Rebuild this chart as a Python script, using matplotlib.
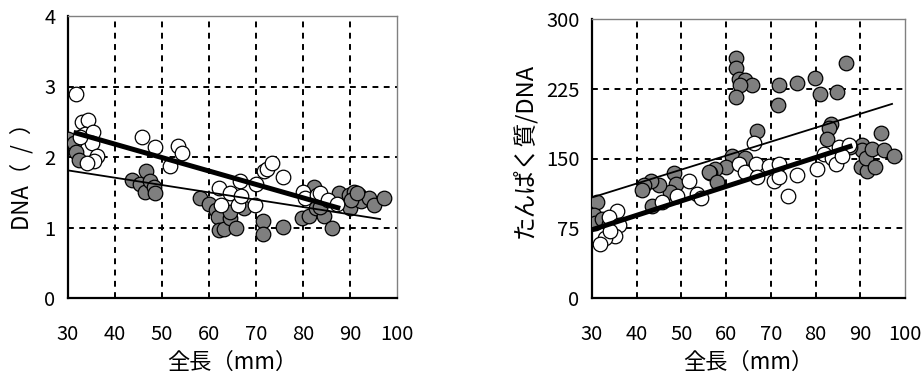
import matplotlib.pyplot as plt

plt.rcParams['font.family'] = ['Noto Sans CJK JP', 'DejaVu Sans']

# left panel: DNA vs total length
dna_open_x = [31.8, 32.9, 34.2, 33.6, 35.4, 35.0, 36.1, 35.5, 34.1, 32.6,
              45.8, 48.5, 51.7, 53.5, 54.2, 62.2, 62.5, 64.5, 66.1, 66.6,
              66.9, 69.8, 70.1, 71.6, 72.3, 73.3, 75.7, 80.1, 80.5, 83.0,
              83.7, 85.4, 87.2]
dna_open_y = [2.89, 2.50, 2.53, 2.33, 2.35, 2.20, 2.02, 1.95, 1.92, 2.28,
              2.29, 2.14, 1.87, 2.16, 2.05, 1.56, 1.32, 1.49, 1.32, 1.66,
              1.44, 1.32, 1.61, 1.80, 1.83, 1.92, 1.71, 1.51, 1.42, 1.46,
              1.49, 1.39, 1.34]
dna_fill_x = [30.1, 31.3, 31.6, 32.3, 43.6, 45.4, 46.7, 46.4, 47.5, 48.4,
              48.6, 58.0, 59.9, 61.5, 62.0, 62.2, 63.2, 64.4, 64.5, 65.8,
              67.4, 71.5, 71.5, 75.8, 79.7, 81.3, 82.3, 82.8, 84.4, 86.2,
              87.6, 89.8, 90.0, 90.8, 92.0, 92.3, 94.1, 95.2, 97.3, 90.2,
              83.7, 91.4]
dna_fill_y = [2.26, 2.20, 2.07, 1.96, 1.67, 1.61, 1.80, 1.51, 1.66, 1.58,
              1.49, 1.42, 1.33, 1.25, 1.15, 0.96, 0.98, 1.13, 1.22, 0.99,
              1.27, 1.09, 0.91, 1.01, 1.13, 1.17, 1.58, 1.27, 1.17, 1.00,
              1.49, 1.46, 1.27, 1.51, 1.46, 1.37, 1.42, 1.32, 1.42, 1.39,
              1.29, 1.49]
dna_fit_open_x = [31.7, 87.4]
dna_fit_open_y = [2.34, 1.28]
dna_fit_fill_x = [30.0, 96.4]
dna_fit_fill_y = [1.81, 1.12]

# right panel: protein/DNA vs total length
pd_fill_x = [62.2, 62.1, 62.8, 64.3, 65.8, 63.1, 62.2, 71.8, 71.6, 75.9,
             79.9, 80.9, 84.9, 86.7, 66.9, 83.4, 83.0, 82.6, 61.3, 59.9,
             57.6, 56.5, 56.2, 58.0, 64.3, 48.3, 48.7, 47.5, 44.9, 43.1,
             41.6, 41.2, 43.4, 31.1, 30.4, 30.7, 32.2, 33.7, 90.4, 90.4,
             90.1, 91.6, 91.2, 93.4, 92.7, 94.6, 95.3, 97.5, 87.8]
pd_fill_y = [258, 247, 236, 234, 229, 229, 216, 229, 208, 231,
             237, 219, 222, 253, 180, 187, 183, 171, 153, 141,
             139, 134, 135, 125, 151, 134, 123, 114, 121, 126,
             121, 116, 99, 103, 89, 81, 85, 80, 164, 159,
             141, 137, 151, 141, 160, 177, 159, 153, 162]
pd_open_x = [66.2, 62.8, 64.2, 66.6, 66.9, 69.6, 70.7, 71.8, 71.8, 73.9,
             75.9, 80.4, 81.9, 83.7, 84.5, 85.2, 87.5, 86.0, 51.6, 53.5,
             54.3, 49.0, 45.7, 35.6, 33.7, 36.0, 35.2, 33.0, 31.9, 34.1]
pd_open_y = [167, 144, 135, 144, 130, 142, 126, 144, 130, 110,
             132, 139, 155, 151, 144, 162, 164, 153, 126, 112,
             107, 110, 103, 94, 87, 78, 67, 65, 58, 72]
pd_fit_open_x = [30.4, 87.7]
pd_fit_open_y = [74, 163]
pd_fit_fill_x = [30.4, 97.1]
pd_fit_fill_y = [108.7, 208.7]

gray = '#7f7f7f'

fig = plt.figure(figsize=(9.24, 3.78), dpi=100)
ax1 = fig.add_axes([68/924, 1-298/378, 329/924, 282/378])
ax2 = fig.add_axes([592/924, 1-298/378, 313/924, 279/378])


def style(ax, xlim, ylim, yticks):
    ax.set_xlim(*xlim)
    ax.set_ylim(*ylim)
    ax.set_xticks(range(30, 101, 10))
    ax.set_yticks(yticks)
    ax.grid(True, color='black', linestyle=(0, (3, 2.8)), linewidth=1.4, zorder=0)
    ax.set_axisbelow(True)
    xg = ax.get_xgridlines()
    yg = ax.get_ygridlines()
    for g in (xg[0], xg[-1], yg[0], yg[-1]):
        g.set_visible(False)
    ax.tick_params(length=0, labelsize=14.5)
    ax.tick_params(axis='x', pad=19)
    ax.tick_params(axis='y', pad=9)
    for s in ('left', 'bottom'):
        ax.spines[s].set_linewidth(1.6)
        ax.spines[s].set_color('black')
    for s in ('top', 'right'):
        ax.spines[s].set_linewidth(1.0)
        ax.spines[s].set_color('#808080')
    ax.set_xlabel('全長（mm）', fontsize=16, labelpad=4)


style(ax1, (30, 100), (0, 4), [0, 1, 2, 3, 4])
ax1.scatter(dna_fill_x, dna_fill_y, s=110, c=gray, edgecolors='black', linewidths=0.9, zorder=3)
ax1.scatter(dna_open_x, dna_open_y, s=110, c='white', edgecolors='black', linewidths=0.9, zorder=4)
ax1.plot(dna_fit_open_x, dna_fit_open_y, color='black', lw=3.6, zorder=5)
ax1.plot(dna_fit_fill_x, dna_fit_fill_y, color='black', lw=1.3, zorder=5)
ax1.set_ylabel('DNA（  /  ）', fontsize=16)
ax1.yaxis.set_label_coords(-0.105, 0.45)

style(ax2, (30, 100), (0, 300), [0, 75, 150, 225, 300])
ax2.scatter(pd_fill_x, pd_fill_y, s=110, c=gray, edgecolors='black', linewidths=0.9, zorder=3)
ax2.scatter(pd_open_x, pd_open_y, s=110, c='white', edgecolors='black', linewidths=0.9, zorder=4)
ax2.plot(pd_fit_open_x, pd_fit_open_y, color='black', lw=3.6, zorder=5)
ax2.plot(pd_fit_fill_x, pd_fit_fill_y, color='black', lw=1.3, zorder=5)
ax2.set_ylabel('たんぱく質/DNA', fontsize=17)
ax2.yaxis.set_label_coords(-0.18, 0.53)

fig.savefig('out.png', dpi=100)
